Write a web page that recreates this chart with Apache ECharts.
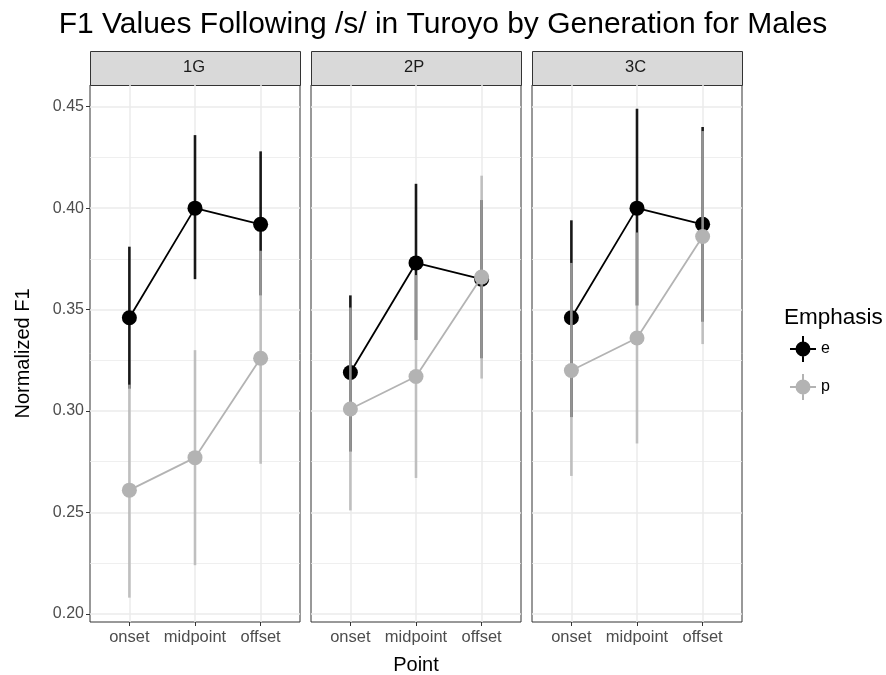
<!DOCTYPE html>
<html>
<head>
<meta charset="utf-8">
<script src="https://cdn.jsdelivr.net/npm/echarts@6/dist/echarts.min.js"></script>
<style>html,body{margin:0;padding:0;background:#fff}#c{width:886px;height:675px}</style>
</head>
<body>
<div id="c"></div>
<script>
// ---- data ----
const points = ['onset', 'midpoint', 'offset'];
const panels = ['1G', '2P', '3C'];
const yTicks = [0.20, 0.25, 0.30, 0.35, 0.40, 0.45];
const yMinorTicks = [0.225, 0.275, 0.325, 0.375, 0.425];
// Emphasis e
const eMean = [[0.346, 0.400, 0.392], [0.319, 0.373, 0.365], [0.346, 0.400, 0.392]];
const eLow  = [[0.311, 0.365, 0.357], [0.280, 0.335, 0.326], [0.297, 0.352, 0.344]];
const eHigh = [[0.381, 0.436, 0.428], [0.357, 0.412, 0.404], [0.394, 0.449, 0.440]];
// Emphasis p
const pMean = [[0.261, 0.277, 0.326], [0.301, 0.317, 0.366], [0.320, 0.336, 0.386]];
const pLow  = [[0.208, 0.224, 0.274], [0.251, 0.267, 0.316], [0.268, 0.284, 0.333]];
const pHigh = [[0.313, 0.330, 0.379], [0.351, 0.367, 0.416], [0.373, 0.388, 0.438]];

// ---- layout ----
const panelLeft = [90, 311, 532];
const panelWidth = 210;
const panelTop = 85;
const panelHeight = 537;
const stripTop = 51;
const stripH = 34;
const font = 'Liberation Sans, Arial, Helvetica, sans-serif';

const chart = echarts.init(document.getElementById('c'));

const grids = [], xAxes = [], yAxes = [], series = [], graphics = [];
const glyph = 'path://M0,12H26V14H0Z M12,0H14V26H12Z M5.5,13A7.5,7.5 0 1,1 20.5,13A7.5,7.5 0 1,1 5.5,13Z';

function barItem(color, opacity) {
  return function (params, api) {
    const x = api.value(0);
    const a = api.coord([x, api.value(1)]);
    const b = api.coord([x, api.value(2)]);
    return {
      type: 'line',
      shape: { x1: a[0], y1: a[1], x2: b[0], y2: b[1] },
      style: { stroke: color, lineWidth: 2.6, opacity: opacity }
    };
  };
}

panels.forEach((pn, i) => {
  grids.push({
    left: panelLeft[i], top: panelTop, width: panelWidth, height: panelHeight,
    containLabel: false, outerBoundsMode: 'none',
    show: true, backgroundColor: '#fff', borderColor: '#333', borderWidth: 1
  });
  xAxes.push({
    type: 'value', gridIndex: i, min: 0.4, max: 3.6,
    axisLine: { show: false },
    axisTick: { show: true, length: 4, lineStyle: { color: '#333', width: 1 }, customValues: [1, 2, 3] },
    axisLabel: { show: true, customValues: [1, 2, 3], formatter: v => points[Math.round(v) - 1],
      color: '#4d4d4d', fontSize: 16.5, fontFamily: font, margin: 7 },
    splitLine: { show: true, lineStyle: { color: '#ebebeb', width: 1.5 } },
    name: i === 1 ? 'Point' : '', nameLocation: 'middle', nameGap: 33,
    nameTextStyle: { color: '#000', fontSize: 20, fontFamily: font }
  });
  yAxes.push({
    type: 'value', gridIndex: i, min: 0.196, max: 0.4607,
    axisLine: { show: false },
    axisTick: { show: i === 0, length: 4, lineStyle: { color: '#333', width: 1 }, customValues: yTicks },
    axisLabel: { show: i === 0, customValues: yTicks, formatter: v => v.toFixed(2),
      color: '#4d4d4d', fontSize: 16, fontFamily: font, margin: 6 },
    splitLine: { show: true, lineStyle: { color: '#ebebeb', width: 1.5 } },
    name: i === 0 ? 'Normalized F1' : '', nameLocation: 'middle', nameGap: 57, nameRotate: 90,
    nameTextStyle: { color: '#000', fontSize: 20, fontFamily: font }
  });
  // strip
  graphics.push({
    type: 'rect', left: panelLeft[i], top: stripTop,
    shape: { width: panelWidth, height: stripH },
    style: { fill: '#d9d9d9', stroke: '#333', lineWidth: 1 }
  });
  graphics.push({
    type: 'text', left: panelLeft[i] + panelWidth / 2 - 12, top: stripTop + 8,
    style: { text: pn, fill: '#1a1a1a', fontSize: 16.5, fontFamily: font, width: 24, align: 'center' }
  });
});

// minor grid axes
panels.forEach((pn, i) => {
  yAxes.push({
    type: 'value', gridIndex: i, min: 0.196, max: 0.4607, position: 'left',
    axisLine: { show: false },
    axisTick: { show: false, customValues: yMinorTicks },
    axisLabel: { show: false, customValues: yMinorTicks },
    splitLine: { show: true, lineStyle: { color: '#ebebeb', width: 0.8 } }
  });
});

panels.forEach((pn, i) => {
  const eLine = points.map((p, j) => [j + 1, eMean[i][j]]);
  const pLine = points.map((p, j) => [j + 1, pMean[i][j]]);
  series.push({
    name: 'e', type: 'line', xAxisIndex: i, yAxisIndex: i, data: eLine, z: 4,
    symbol: 'circle', symbolSize: 15, showSymbol: true,
    itemStyle: { color: '#000' }, lineStyle: { color: '#000', width: 1.8 },
    emphasis: { disabled: true }, animation: false
  });
  series.push({
    name: 'p', type: 'line', xAxisIndex: i, yAxisIndex: i, data: pLine, z: 6,
    symbol: 'circle', symbolSize: 15, showSymbol: true,
    itemStyle: { color: '#b3b3b3' }, lineStyle: { color: '#b3b3b3', width: 1.8 },
    emphasis: { disabled: true }, animation: false
  });
});
panels.forEach((pn, i) => {
  series.push({
    name: 'e', type: 'custom', xAxisIndex: i, yAxisIndex: i, z: 3,
    data: points.map((p, j) => [j + 1, eLow[i][j], eHigh[i][j]]),
    renderItem: barItem('#000', 0.9), animation: false, silent: true
  });
  series.push({
    name: 'p', type: 'custom', xAxisIndex: i, yAxisIndex: i, z: 5,
    data: points.map((p, j) => [j + 1, pLow[i][j], pHigh[i][j]]),
    renderItem: barItem('#b3b3b3', 0.8), animation: false, silent: true
  });
});

chart.setOption({
  backgroundColor: '#fff',
  animation: false,
  title: [
    { text: 'F1 Values Following /s/ in Turoyo by Generation for Males', left: 'center', top: 5,
      textStyle: { fontSize: 30, fontWeight: 'normal', color: '#000', fontFamily: font } },
    { text: 'Emphasis', left: 779, top: 301,
      textStyle: { fontSize: 22.5, fontWeight: 'normal', color: '#000', fontFamily: font } }
  ],
  legend: {
    orient: 'vertical', left: 785, top: 331, itemWidth: 26, itemHeight: 26, itemGap: 12,
    data: [{ name: 'e', icon: glyph }, { name: 'p', icon: glyph }],
    textStyle: { fontSize: 16, color: '#000', fontFamily: font },
    selectedMode: false
  },
  grid: grids,
  xAxis: xAxes,
  yAxis: yAxes,
  series: series,
  graphic: graphics
});
</script>
</body>
</html>
